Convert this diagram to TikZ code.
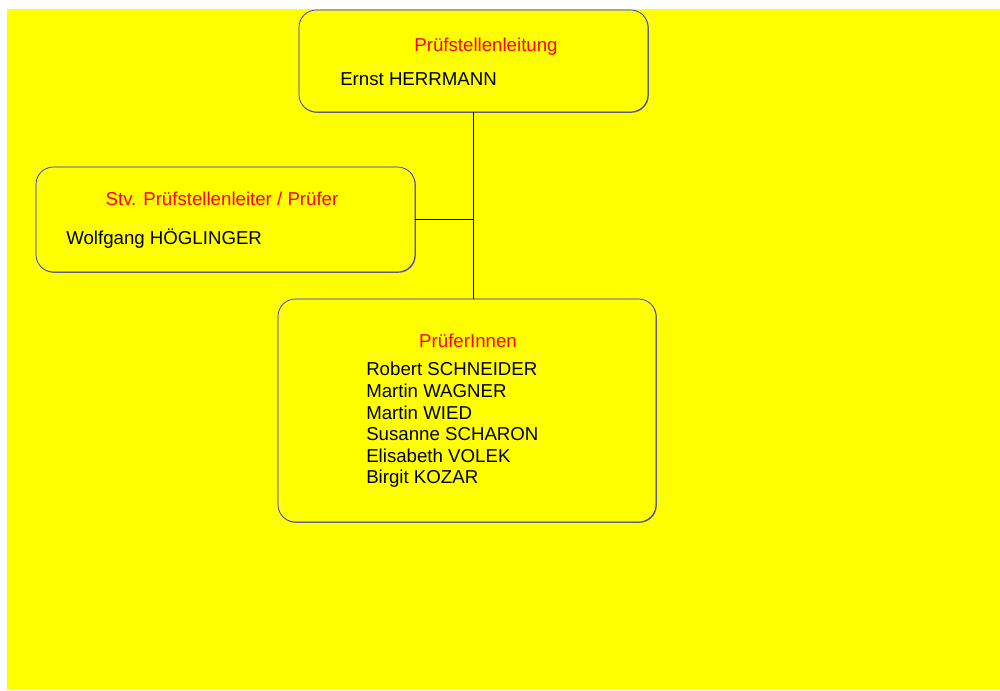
\documentclass[tikz,border=0pt]{standalone}
\usepackage{fontspec}
\setmainfont{Liberation Sans}
\usepackage{tikz}
\usetikzlibrary{positioning,shadows}
\definecolor{orgyellow}{RGB}{255,255,0}
\definecolor{orgblue}{RGB}{30,30,240}
\definecolor{orgred}{RGB}{255,0,0}

\begin{document}
\begin{tikzpicture}[x=0.75pt, y=-0.75pt,
    unit/.style={rectangle, draw=orgblue, fill=orgyellow, rounded corners=13pt, line width=0.5pt,
        drop shadow={shadow xshift=0.6pt, shadow yshift=-0.6pt, fill=black!55, opacity=1}},
    head/.style={text=orgred, font=\fontsize{14}{16.2}\selectfont, inner sep=0pt},
    person/.style={text=black, font=\fontsize{14}{16.2}\selectfont, inner sep=0pt, anchor=west, align=left}
]
\useasboundingbox (0,0) rectangle (1000,690);
\fill[orgyellow] (7,9) rectangle (1000,690);

% boxes
\node[unit, minimum width=261.75pt, minimum height=76.5pt] (lead) at (473.5,61) {};
\node[unit, minimum width=284.25pt, minimum height=78.75pt] (deputy) at (225.5,219.5) {};
\node[unit, minimum width=283.5pt, minimum height=167.25pt] (team) at (467,410.5) {};

% connectors
\draw[line width=0.5pt] (lead.south) -- (lead.south |- team.north);
\draw[line width=0.5pt] (deputy.east) -- (deputy.east -| lead.south);

% texts
\node[head] (leadhead) at (486,47) {Prüfstellenleitung};
\node[person] (leadname) at (340,79) {Ernst HERRMANN};
\node[head] (deputyhead) at (222,199) {Stv. Prüfstellenleiter / Prüfer};
\node[person] (deputyname) at (66,239) {Wolfgang HÖGLINGER};
\node[head] (teamhead) at (468,341) {PrüferInnen};
\node[person, anchor=north west] (teamnames) at (366,362) {Robert SCHNEIDER\\Martin WAGNER\\Martin WIED\\Susanne SCHARON\\Elisabeth VOLEK\\Birgit KOZAR};
\end{tikzpicture}
\end{document}
